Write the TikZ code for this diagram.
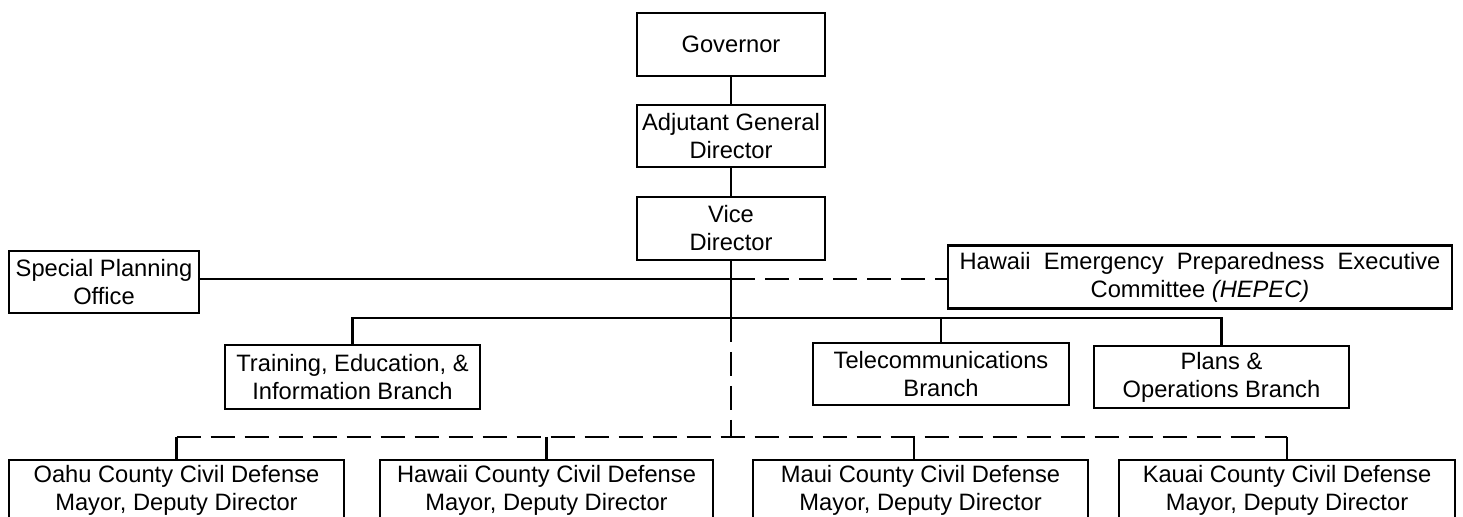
\documentclass[tikz,border=0pt]{standalone}
\usepackage{fontspec}
\setmainfont{Liberation Sans}
\begin{document}
\begin{tikzpicture}[x=0.5pt,y=-0.5pt,
  box/.style={draw, line width=1.35pt, inner sep=0pt, align=center,
    font=\fontsize{11.85}{14}\selectfont},
  conn/.style={line width=1.05pt},
  dconn/.style={line width=1.05pt, dash pattern=on 12pt off 5pt}]
\useasboundingbox (0,0) rectangle (1463,517);
\fill[white] (0,0) rectangle (1463,517);
\clip (0,0) rectangle (1463,517);
% top chain
\node[box, minimum width=94pt, minimum height=31.5pt] (gov) at (731,44.5) {Governor};
\node[box, minimum width=94pt, minimum height=31pt] (adj) at (731,136) {Adjutant General\\Director};
\node[box, minimum width=94pt, minimum height=31.5pt] (vice) at (731,228.5) {Vice\\Director};
% side boxes
\node[box, minimum width=95pt, minimum height=31pt] (spo) at (104,282) {Special Planning\\Office};
\node[box, minimum width=252pt, minimum height=31.5pt] (hepec) at (1200,277) {\makebox[240.5pt][s]{Hawaii Emergency Preparedness Executive}\\Committee \textit{(HEPEC)}};
% branches
\node[box, minimum width=127.5pt, minimum height=32pt] (train) at (352.5,377) {Training, Education, \&\\Information Branch};
\node[box, minimum width=128pt, minimum height=31pt] (tele) at (941,374) {Telecommunications\\Branch};
\node[box, minimum width=127.5pt, minimum height=31pt] (plans) at (1221.5,377) {Plans \&\\Operations Branch};
% counties
\node[box, minimum width=167.5pt, minimum height=30pt] (oahu) at (176.5,490) {Oahu County Civil Defense\\Mayor, Deputy Director};
\node[box, minimum width=166.5pt, minimum height=30pt] (hawaii) at (546.5,490) {Hawaii County Civil Defense\\Mayor, Deputy Director};
\node[box, minimum width=167.5pt, minimum height=30pt] (maui) at (920.5,490) {Maui County Civil Defense\\Mayor, Deputy Director};
\node[box, minimum width=168pt, minimum height=30pt] (kauai) at (1287,490) {Kauai County Civil Defense\\Mayor, Deputy Director};
% junctions
\coordinate (j1) at (731,279);
\coordinate (j2) at (731,318);
\coordinate (j3) at (731,437);
\coordinate (md) at (914,437);
% solid connectors
\draw[conn] (gov) -- (adj);
\draw[conn] (adj) -- (vice);
\draw[conn] (vice.south) -- (j2);
\draw[conn] (spo.east |- j1) -- (j1);
\draw[conn] (train.north) -- (train.north |- j2) -- (plans.north |- j2) -- (plans.north);
\draw[conn] (tele.north) -- (tele.north |- j2);
% dashed connectors
\draw[dconn] (j1) -- (hepec.west |- j1);
\draw[dconn] (j2) -- (j3);
\draw[dconn] (oahu.north |- j3) -- (kauai.north |- j3);
% county drops
\draw[conn] (oahu.north |- j3) -- (oahu.north);
\draw[conn] (hawaii.north |- j3) -- (hawaii.north);
\draw[conn] (md) -- (md |- maui.north);
\draw[conn] (kauai.north |- j3) -- (kauai.north);
\end{tikzpicture}
\end{document}
